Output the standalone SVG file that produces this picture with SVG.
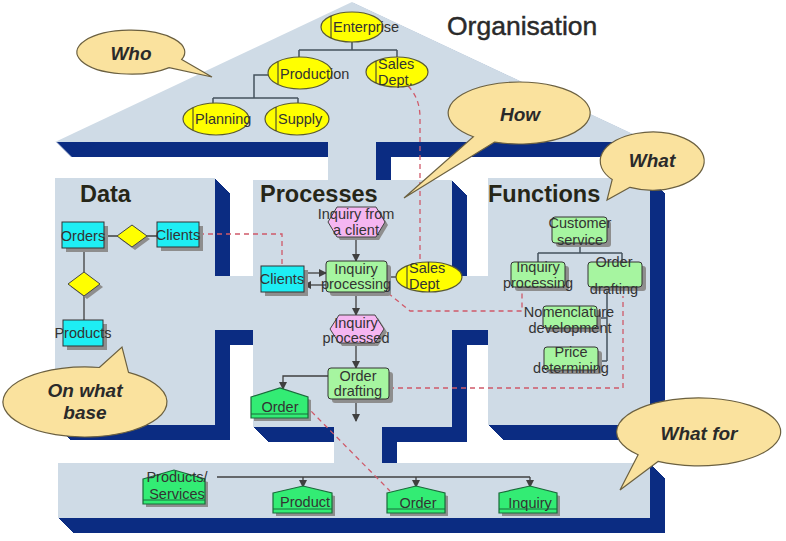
<svg xmlns="http://www.w3.org/2000/svg" xmlns:xlink="http://www.w3.org/1999/xlink" width="786" height="541" viewBox="0 0 786 541">
<style>
.t{font-family:"Liberation Sans",Arial,sans-serif;font-size:14.5px;fill:#333}
.m{text-anchor:middle}
.h{font-family:"Liberation Sans",Arial,sans-serif;font-size:23.5px;font-weight:bold;fill:#262618}
.bt{font-family:"Liberation Sans",Arial,sans-serif;font-size:19px;font-weight:bold;font-style:italic;fill:#2a2a2a;text-anchor:middle}
.org{fill:#ffff00;stroke:#5a5a30;stroke-width:1.2}
.vl{stroke:#333;stroke-width:1}
.sh{fill:#8e8e8e}
.cy{fill:#1eeef4;stroke:#333;stroke-width:1}
.fn{fill:#a6f5a0;stroke:#333;stroke-width:1}
.ev{fill:#f5b6f1;stroke:#444;stroke-width:1}
.dia{fill:#ffff00;stroke:#444;stroke-width:1}
.doc{fill:#33ec74;stroke:#1a6a3a;stroke-width:1.2}
.bub{fill:#fae29e;stroke:#6b6040;stroke-width:1.2}
.cn{stroke:#404040;stroke-width:1.3;fill:none}
.ds{stroke:#d05a6a;stroke-width:1.3;stroke-dasharray:5 4;fill:none}
.tr{stroke:#46535e;stroke-width:1.5;fill:none}
</style>
<defs>
<marker id="ah" markerWidth="8" markerHeight="8" refX="7" refY="4" orient="auto" markerUnits="userSpaceOnUse">
<path d="M0,0 L8,4 L0,8 z" fill="#404040"/>
</marker>
<g id="face">
<polygon points="55,142 352,2 650,142"/>
<rect x="328" y="141" width="48" height="41"/>
<rect x="55" y="178" width="160" height="247"/>
<rect x="214" y="276" width="40" height="54"/>
<rect x="253" y="180" width="199" height="247"/>
<rect x="451" y="276" width="38" height="54"/>
<rect x="488" y="178" width="162" height="247"/>
<rect x="334" y="426" width="48" height="38"/>
<rect x="58" y="463" width="592" height="55"/>
</g>
</defs>
<rect x="0" y="0" width="786" height="541" fill="#ffffff"/>
<g id="house">
<g fill="#0b2c82">
<use xlink:href="#face" x="1" y="1"/><use xlink:href="#face" x="2" y="2"/><use xlink:href="#face" x="3" y="3"/>
<use xlink:href="#face" x="4" y="4"/><use xlink:href="#face" x="5" y="5"/><use xlink:href="#face" x="6" y="6"/>
<use xlink:href="#face" x="7" y="7"/><use xlink:href="#face" x="8" y="8"/><use xlink:href="#face" x="9" y="9"/>
<use xlink:href="#face" x="10" y="10"/><use xlink:href="#face" x="11" y="11"/><use xlink:href="#face" x="12" y="12"/>
<use xlink:href="#face" x="13" y="13"/><use xlink:href="#face" x="14" y="14"/><use xlink:href="#face" x="15" y="15"/>
</g>
<use xlink:href="#face" fill="#cfdbe6"/>
</g>
<g id="titles">
<text x="447" y="35" font-family="Liberation Sans, Arial, sans-serif" font-size="26.5" fill="#2a2a2a" stroke="#2a2a2a" stroke-width="0.45">Organisation</text>
<text class="h" x="80" y="202" font-size="23">Data</text>
<text class="h" x="260" y="202">Processes</text>
<text class="h" x="488" y="202">Functions</text>
</g>
<g id="connectors">
<path class="tr" d="M352,42 V50 M299,50 H397 M299,50 V57 M397,50 V57"/>
<path class="tr" d="M268,75 H254 V98 M213,98 H298 M213,98 V103 M298,98 V103"/>
<path class="cn" d="M104,236 H117 M147,236 H157 M84,248 V272 M84,296 V320"/>
<path class="cn" d="M356,237 V261" marker-end="url(#ah)"/>
<path class="cn" d="M304,273 H326" marker-end="url(#ah)"/>
<path class="cn" d="M326,285 H304" marker-end="url(#ah)"/>
<path class="cn" d="M387,277 H396"/>
<path class="cn" d="M356,292 V315" marker-end="url(#ah)"/>
<path class="cn" d="M356,343 V368" marker-end="url(#ah)"/>
<path class="cn" d="M328,376 H283 V389" marker-end="url(#ah)"/>
<path class="cn" d="M356,399 V421" marker-end="url(#ah)"/>
<path class="tr" d="M580,243 V253 M538,253 H622 M538,253 V262 M622,253 V262"/>
<path class="tr" d="M607,287 V361 M597,318 H607 M598,361 H607"/>
<path class="cn" d="M217,477 H530"/>
<path class="cn" d="M303,477 V487" marker-end="url(#ah)"/>
<path class="cn" d="M416,477 V487" marker-end="url(#ah)"/>
<path class="cn" d="M530,477 V487" marker-end="url(#ah)"/>
<path class="ds" d="M199,234 H282 V266"/>
<path class="ds" d="M408,86 Q420,98 420,118 V262"/>
<path class="ds" d="M388,293 L410,311 H522 V292"/>
<path class="ds" d="M389,388 H623 V296"/>
<path class="ds" d="M305,405 L390,491"/>
</g>
<g id="enterprise">
<ellipse class="org" cx="352" cy="27" rx="31" ry="15"/>
<line class="vl" x1="331" y1="16" x2="331" y2="38"/>
<text class="t" x="333" y="32">Enterprise</text>
</g>
<g id="production">
<ellipse class="org" cx="300" cy="73" rx="32" ry="16"/>
<line class="vl" x1="278" y1="62" x2="278" y2="84"/>
<text class="t" x="280" y="79">Production</text>
</g>
<g id="sales-dept-org">
<ellipse class="org" cx="397" cy="72" rx="31" ry="15"/>
<line class="vl" x1="376" y1="61" x2="376" y2="83"/>
<text class="t" x="378" y="68.5" font-size="14">Sales</text>
<text class="t" x="378" y="84.5" font-size="14">Dept.</text>
</g>
<g id="planning">
<ellipse class="org" cx="216" cy="119" rx="33" ry="16"/>
<line class="vl" x1="193" y1="108" x2="193" y2="130"/>
<text class="t" x="195" y="124">Planning</text>
</g>
<g id="supply">
<ellipse class="org" cx="297" cy="119" rx="32" ry="16"/>
<line class="vl" x1="276" y1="107" x2="276" y2="131"/>
<text class="t" x="278" y="124">Supply</text>
</g>
<g id="orders">
<rect class="sh" x="66" y="226" width="42" height="26"/>
<rect class="cy" x="62" y="222" width="42" height="26"/>
<text class="t m" x="83" y="241">Orders</text>
</g>
<g id="rel-orders-clients">
<polygon class="sh" points="135,228 150,239 135,250 120,239"/>
<polygon class="dia" points="132,225 147,236 132,247 117,236"/>
</g>
<g id="clients-data">
<rect class="sh" x="161" y="226" width="42" height="25"/>
<rect class="cy" x="157" y="222" width="42" height="25"/>
<text class="t m" x="178" y="240">Clients</text>
</g>
<g id="rel-orders-products">
<polygon class="sh" points="87,275 103,287 87,299 71,287"/>
<polygon class="dia" points="84,272 100,284 84,296 68,284"/>
</g>
<g id="products">
<rect class="sh" x="67" y="324" width="40" height="26"/>
<rect class="cy" x="63" y="320" width="40" height="26"/>
<text class="t m" x="83" y="338">Products</text>
</g>
<g id="inquiry-from-client">
<polygon class="sh" points="331,225 340,210 379,210 388,225 379,240 340,240"/>
<polygon class="ev" points="328,222 337,207 376,207 385,222 376,237 337,237"/>
<text class="t m" x="356" y="219">Inquiry from</text>
<text class="t m" x="356" y="235">a client</text>
</g>
<g id="clients-proc">
<rect class="sh" x="265" y="270" width="43" height="26"/>
<rect class="cy" x="261" y="266" width="43" height="26"/>
<text class="t m" x="282" y="284">Clients</text>
</g>
<g id="inquiry-processing">
<rect class="sh" x="330" y="265" width="61" height="31" rx="3"/>
<rect class="fn" x="326" y="261" width="61" height="31" rx="3"/>
<text class="t m" x="356" y="274">Inquiry</text>
<text class="t m" x="356" y="289">processing</text>
</g>
<g id="sales-dept-proc">
<ellipse class="org" cx="429" cy="277" rx="33" ry="15"/>
<line class="vl" x1="407" y1="266" x2="407" y2="288"/>
<text class="t" x="409" y="272.5" font-size="14">Sales</text>
<text class="t" x="409" y="288.5" font-size="14">Dept</text>
</g>
<g id="inquiry-processed">
<polygon class="sh" points="333,332 342,318 378,318 387,332 378,346 342,346"/>
<polygon class="ev" points="330,329 339,315 375,315 384,329 375,343 339,343"/>
<text class="t m" x="356" y="328">Inquiry</text>
<text class="t m" x="356" y="343">processed</text>
</g>
<g id="order-drafting">
<rect class="sh" x="332" y="372" width="61" height="31" rx="3"/>
<rect class="fn" x="328" y="368" width="61" height="31" rx="3"/>
<text class="t m" x="358" y="381">Order</text>
<text class="t m" x="358" y="396">drafting</text>
</g>
<g id="order-proc">
<polygon class="sh" points="254,400 283,391 311,400 311,421 254,421"/>
<polygon class="doc" points="251,397 280,388 308,397 308,418 251,418"/>
<line x1="251" y1="414" x2="308" y2="414" stroke="#1a6a3a" stroke-width="1.2"/>
<text class="t m" x="280" y="412">Order</text>
</g>
<g id="customer-service">
<rect class="sh" x="556" y="221" width="55" height="26" rx="3"/>
<rect class="fn" x="552" y="217" width="55" height="26" rx="3"/>
<text class="t m" x="580" y="228">Customer</text>
<text class="t m" x="580" y="244.5">service</text>
</g>
<g id="f-inquiry-processing">
<rect class="sh" x="515" y="266" width="54" height="25" rx="3"/>
<rect class="fn" x="511" y="262" width="54" height="25" rx="3"/>
<text class="t m" x="538" y="272">Inquiry</text>
<text class="t m" x="538" y="288">processing</text>
</g>
<g id="f-order-drafting">
<rect class="sh" x="592" y="266" width="54" height="25" rx="3"/>
<rect class="fn" x="588" y="262" width="54" height="25" rx="3"/>
<text class="t m" x="614" y="267">Order</text>
<text class="t m" x="614" y="294">drafting</text>
</g>
<g id="nomenclature">
<rect class="sh" x="547" y="310" width="54" height="22" rx="3"/>
<rect class="fn" x="543" y="306" width="54" height="22" rx="3"/>
<text class="t m" x="569" y="316.5">Nomenclature</text>
<text class="t m" x="570" y="332.5">development</text>
</g>
<g id="price-determining">
<rect class="sh" x="548" y="351" width="54" height="23" rx="3"/>
<rect class="fn" x="544" y="347" width="54" height="23" rx="3"/>
<text class="t m" x="571" y="357">Price</text>
<text class="t m" x="571" y="373">determining</text>
</g>
<g id="products-services">
<polygon class="sh" points="146,482 177,473 208,482 208,507 146,507"/>
<polygon class="doc" points="143,479 174,470 205,479 205,504 143,504"/>
<line x1="143" y1="500" x2="205" y2="500" stroke="#1a6a3a" stroke-width="1.2"/>
<text class="t m" x="177" y="482">Products/</text>
<text class="t m" x="177" y="499">Services</text>
</g>
<g id="product">
<polygon class="sh" points="276,496 306,489 335,496 335,516 276,516"/>
<polygon class="doc" points="273,493 303,486 332,493 332,513 273,513"/>
<line x1="273" y1="509" x2="332" y2="509" stroke="#1a6a3a" stroke-width="1.2"/>
<text class="t m" x="305" y="507">Product</text>
</g>
<g id="order-out">
<polygon class="sh" points="390,496 419,489 448,496 448,516 390,516"/>
<polygon class="doc" points="387,493 416,486 445,493 445,513 387,513"/>
<line x1="387" y1="509" x2="445" y2="509" stroke="#1a6a3a" stroke-width="1.2"/>
<text class="t m" x="418" y="508">Order</text>
</g>
<g id="inquiry-out">
<polygon class="sh" points="502,496 533,489 560,496 560,516 502,516"/>
<polygon class="doc" points="499,493 530,486 557,493 557,513 499,513"/>
<line x1="499" y1="509" x2="557" y2="509" stroke="#1a6a3a" stroke-width="1.2"/>
<text class="t m" x="530" y="508">Inquiry</text>
</g>
<g id="bubble-who">
<path class="bub" d="M181.7,59.5 L212,77 L169.2,67.6 A54,22 0 1 1 181.7,59.5 Z"/>
<text class="bt" x="131" y="60">Who</text>
</g>
<g id="bubble-how">
<path class="bub" d="M494.7,142.1 L404,198 L473.4,136.7 A71,31 0 1 1 494.7,142.1 Z"/>
<text class="bt" x="520" y="121">How</text>
</g>
<g id="bubble-what">
<path class="bub" d="M630,187.3 L607,200 L612.2,179.6 A52,29 0 1 1 630,187.3 Z"/>
<text class="bt" x="652" y="167">What</text>
</g>
<g id="bubble-on-what-base">
<path class="bub" d="M99.3,367.5 L122,347 L128.5,372.3 A82,35 0 1 1 99.3,367.5 Z"/>
<text class="bt" x="85" y="397">On what</text>
<text class="bt" x="85" y="419">base</text>
</g>
<g id="bubble-what-for">
<path class="bub" d="M658,461.4 L620,490 L638.1,454.8 A82,34 0 1 1 658,461.4 Z"/>
<text class="bt" x="699" y="440">What for</text>
</g>
</svg>
